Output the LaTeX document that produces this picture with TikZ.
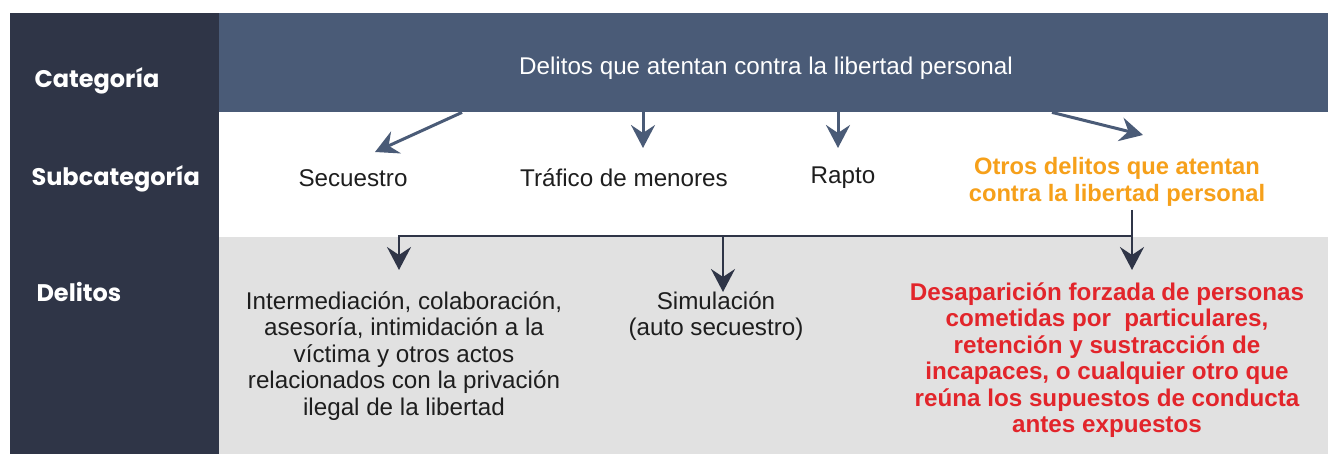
\documentclass[tikz,border=0pt]{standalone}
\usepackage{fontspec}
\setmainfont{Liberation Sans}
\newfontfamily\labelfont{Poppins}
\usetikzlibrary{arrows.meta}
\definecolor{panel}{HTML}{2F3547}
\definecolor{band}{HTML}{4A5B77}
\definecolor{rowgray}{HTML}{E1E1E1}
\definecolor{otrosorange}{HTML}{F6A01A}
\definecolor{desapred}{HTML}{E2252B}
\definecolor{ink}{HTML}{1E1E1E}

\begin{document}
\begin{tikzpicture}[x=1pt, y=-1pt,
    side/.style={anchor=west, text=white, font=\labelfont\bfseries\fontsize{24}{28}\selectfont},
    item/.style={text=ink, align=center, font=\fontsize{24.2}{26.5}\selectfont},
    toparrow/.style={draw=band, line width=3pt, -{Stealth[length=23pt, width=24pt, inset=8pt]}},
    botarrow/.style={draw=panel, line width=2.8pt, -{Stealth[length=23pt, width=24pt, inset=8pt]}}]
        % rows and side panel
        \useasboundingbox[fill=white] (0,0) rectangle (1328,454);
        \fill[rowgray] (219,237) rectangle (1328,454);
        \fill[panel] (10,13) rectangle (219,454);
        \node[fill=band, anchor=north west, inner sep=0pt,
              minimum width=1109pt, minimum height=99pt] (cat) at (219,13) {};
        \node[side] (lcat) at (31,81) {Categoría};
        \node[side] (lsub) at (28,179) {Subcategoría};
        \node[side] (ldel) at (33,292) {Delitos};
        % texts
        \node[item, text=white] (cattext) at (766,68) {Delitos que atentan contra la libertad personal};
        \node[item] (sec) at (353,178) {Secuestro};
        \node[item] (tra) at (624,178) {Tráfico de menores};
        \node[item] (rap) at (843,178) {Rapto};
        \node[item, text=otrosorange, font=\bfseries\fontsize{23.7}{27.5}\selectfont]
            (otr) at (1117,182) {Otros delitos que atentan\\contra la libertad personal};
        \node[item] (interm) at (404,356) {Intermediación, colaboración,\\asesoría, intimidación a la\\víctima y otros actos\\relacionados con la privación\\ilegal de la libertad};
        \node[item] (simul) at (716,316) {Simulación\\(auto secuestro)};
        \node[item, text=desapred, font=\bfseries\fontsize{24.2}{26.5}\selectfont]
            (desap) at (1107,360) {Desaparición forzada de personas\\cometidas por\ \ particulares,\\retención y sustracción de\\incapaces, o cualquier otro que\\reúna los supuestos de conducta\\antes expuestos};
        % category to subcategories
        \foreach \name/\sx/\tx/\ty in {sec/462/375/152, tra/643/643/148, rap/838/838/148, otr/1052/1143/135} {
            \coordinate (\name-in) at (\tx,\ty);
            \draw[toparrow] (cat.south -| \sx,0) -- (\name-in);
        }
        % subcategory to delitos
        \coordinate (otr-out) at (1132,210);
        \coordinate (split) at (1132,236);
        \coordinate (interm-in) at (399,270);
        \coordinate (simul-in) at (723,292);
        \coordinate (desap-in) at (1132,270);
        \draw[botarrow] (split) -| (interm-in);
        \draw[botarrow] (split -| simul-in) -- (simul-in);
        \draw[botarrow] (otr-out) -- (desap-in);
    \end{tikzpicture}
\end{document}
